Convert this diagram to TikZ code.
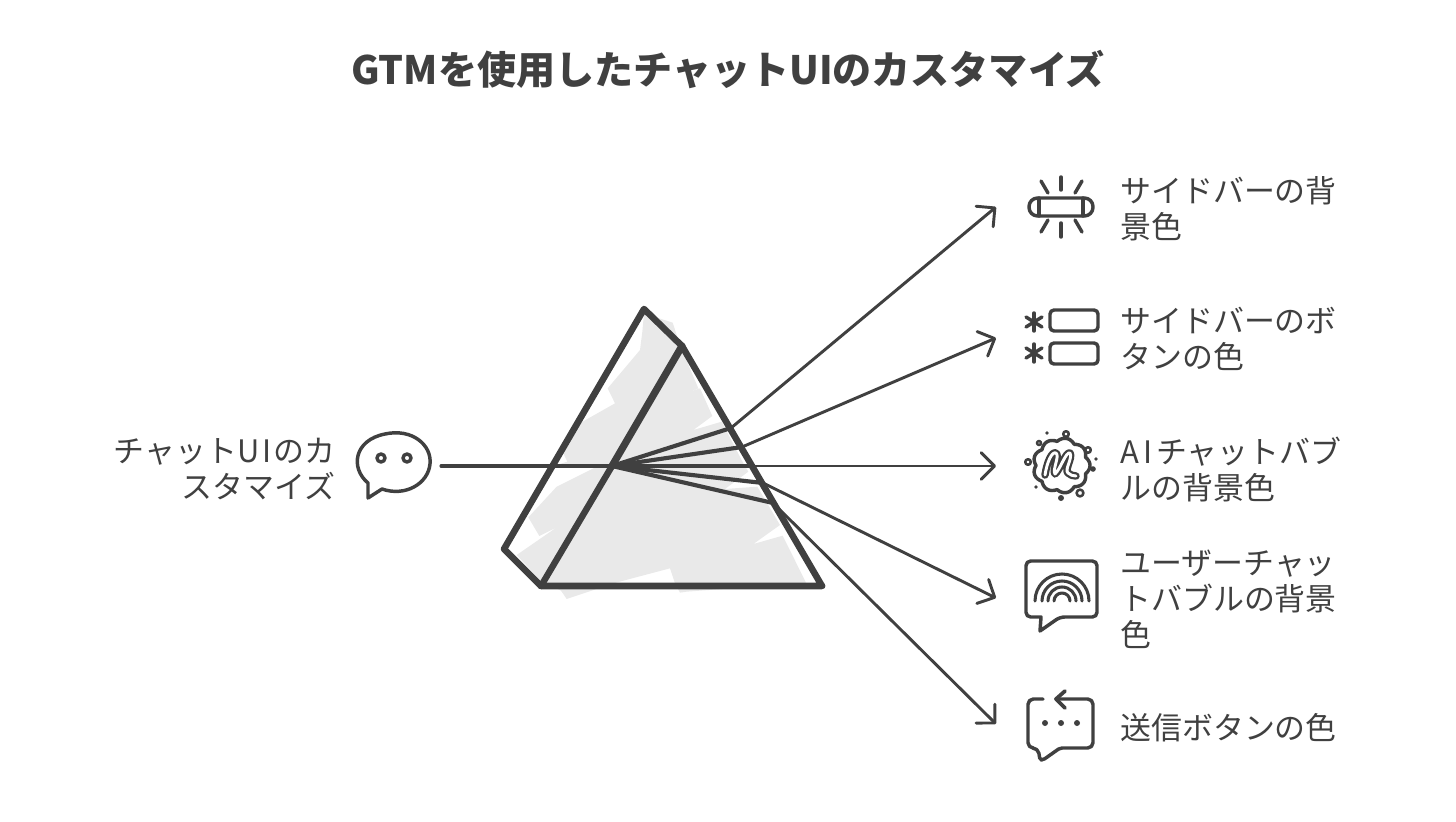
\documentclass[tikz,border=0pt]{standalone}
\usepackage{fontspec}
\setmainfont{Noto Sans CJK JP}
\usetikzlibrary{arrows.meta}
\definecolor{ink}{HTML}{404040}
\definecolor{prismgrey}{HTML}{E9E9E9}
\tikzset{
  prism/.style={draw=ink,line width=4.9pt,line cap=round,line join=round},
  ray/.style={draw=ink,line width=2.3pt,line cap=round},
  beam/.style={draw=ink,line width=3.1pt,line cap=round},
  pointer/.style={draw=ink,line width=2.2pt,line cap=round,line join=round,-{Straight Barb[length=10pt,width=20pt,line width=2.2pt,round]}},
  icon/.style={draw=ink,line width=2.6pt,line cap=round,line join=round},
  dot/.style={fill=ink,draw=none},
  label/.style={text=ink,inner sep=0pt,font=\fontsize{23.2}{27}\selectfont},
  rlabel/.style={label,anchor=west,align=left},
  llabel/.style={label,anchor=east,align=right},
  headline/.style={text=ink,inner sep=0pt,font=\fontsize{29.3}{34}\selectfont\bfseries}
}
\begin{document}
\begin{tikzpicture}[x=0.75pt,y=-0.75pt]
\useasboundingbox (0,0) rectangle (1456,821);
% grey hatch inside the prism
\begin{scope}[shift={(480,290)},x=0.25pt,y=-0.25pt]
\fill[prismgrey] (492,70)--(578,98)--(600,165)--(655,295)--(607,312)--(660,295)--(697,378)--(640,420)--(725,395)--(790,520)--(805,545)--(735,597)--(832,590)--(900,705)--(820,762)--(908,737)--(978,878)--(620,905)--(600,908)--(585,880)--(570,835)--(400,880)--(260,927)--(243,902)--(180,870)--(110,795)--(230,712)--(178,738)--(145,682)--(230,590)--(350,530)--(220,528)--(262,515)--(250,490)--(290,405)--(405,340)--(383,295)--(480,180)--(487,125)--cycle;
\end{scope}
% named points
\coordinate (apex) at (644,309);
\coordinate (ridge) at (682,346);
\coordinate (bl) at (541,586);
\coordinate (br) at (822,586);
\coordinate (far) at (504,549);
\coordinate (focus) at (612,466);
\coordinate (x1) at (731,428);
\coordinate (x2) at (742,447);
\coordinate (x3) at (752,466);
\coordinate (x4) at (763,483);
\coordinate (x5) at (773,503);
\coordinate (a1) at (996,207);
\coordinate (a2) at (996,338);
\coordinate (a3) at (996,466);
\coordinate (a4) at (996,598);
\coordinate (a5) at (996,724);
\coordinate (start) at (441,466);
% incoming ray and fan
\draw[ray] (start) -- (focus);
\draw[beam] (focus) -- (x1);
\draw[beam] (focus) -- (x2);
\draw[beam] (focus) -- (x3);
\draw[beam] (focus) -- (x4);
\draw[beam] (focus) -- (x5);
% prism outline
\draw[prism] (apex) -- (ridge) -- (br) -- (bl) -- (far) -- cycle;
\draw[prism,line width=5.4pt] (ridge) -- (focus);
\draw[prism,line width=4.8pt] (focus) -- (bl);
\draw[prism,line width=5.2pt] (bl) -- (br);
% outgoing arrows
\draw[pointer] (x1) -- (a1);
\draw[pointer] (x2) -- (a2);
\draw[pointer] (x3) -- (a3);
\draw[pointer] (x4) -- (a4);
\draw[pointer] (x5) -- (a5);
% title
\node[headline] (title) at (728,70) {GTMを使用したチャットUIのカスタマイズ};
% labels
\node[llabel] (lsrc) at (336,469) {チャットU\kern2pt I\kern2pt のカ\\スタマイズ};
\node[rlabel] (l1) at (1120,209) {サイドバーの背\\景色};
\node[rlabel] (l2) at (1120,339) {サイドバーのボ\\タンの色};
\node[rlabel] (l3) at (1120,469) {A\kern3pt I\kern3pt チャットバブ\\ルの背景色};
\node[rlabel] (l4) at (1120,599) {ユーザーチャッ\\トバブルの背景\\色};
\node[rlabel] (l5) at (1120,728) {送信ボタンの色};
% source bubble icon
\draw[icon] (368,483) .. controls (350,468) and (354,440) .. (385,434) .. controls (412,428) and (432,445) .. (430,464) .. controls (428,484) and (405,497) .. (382,489) -- (368,498) -- cycle;
\draw[icon] (381,458) circle (4);
\draw[icon] (407,458) circle (4);
% icon 1: glowing capsule
\draw[icon,rounded corners=6.5pt] (1029,198) rectangle (1093,216);
\draw[icon] (1039,198) -- (1039,216);
\draw[icon] (1083,198) -- (1083,216);
\draw[icon] (1061,177) -- (1061,190);
\draw[icon] (1041,181) -- (1048,193);
\draw[icon] (1082,181) -- (1075,193);
\draw[icon] (1061,223) -- (1061,237);
\draw[icon] (1048,220) -- (1041,232);
\draw[icon] (1075,220) -- (1082,232);
% icon 2: two buttons and stars
\draw[icon,rounded corners=3pt] (1050,310) rectangle (1098,331);
\draw[icon,rounded corners=3pt] (1050,343) rectangle (1098,364);
\foreach \cy in {322,353}{
  \draw[icon] (1034,\cy-9) -- (1034,\cy+9);
  \draw[icon] (1026,\cy-5) -- (1042,\cy+5);
  \draw[icon] (1026,\cy+5) -- (1042,\cy-5);
}
% icon 3: cloud with m
\draw[icon] plot[domain=0:360,samples=145,smooth] ({1061.5+(25.5+3*abs(cos(4.5*\x)))*cos(\x)},{465.5+(24.5+3*abs(cos(4.5*\x)))*sin(\x)}) -- cycle;
\draw[draw=ink,line cap=round,line join=round,double=white,double distance=2.2pt,line width=1.7pt] (1045,475) .. controls (1047,462) and (1052,451) .. (1056,453) .. controls (1060,456) and (1052,470) .. (1055,474) .. controls (1060,470) and (1066,451) .. (1070,453) .. controls (1073,458) and (1064,470) .. (1068,473) .. controls (1070,475) and (1073,476) .. (1076,476);
\foreach \px/\py/\r in {1047/433/1.8,1096/459/1.8,1036/487/1.8,1093/469/2.8,1061/498/3}{
  \fill[dot] (\px,\py) circle (\r);
}
\foreach \px/\py/\r in {1066/434/2.8,1039/443/2.0,1088/450/2.8,1028/462/2.8,1080/493/3.4}{
  \draw[icon,line width=1.9pt] (\px,\py) circle (\r);
}
% icon 4: bubble with rainbow
\draw[icon,rounded corners=3.5pt] (1026,561) -- (1097,561) -- (1097,617) -- (1060,617) [sharp corners] -- (1040,631) -- (1041,617) [rounded corners=3.5pt] -- (1026,617) -- cycle;
\foreach \r in {27,20,14,8}{
  \draw[icon,line width=2.3pt] (1062-\r,601) arc (180:360:\r);
}
% icon 5: bubble with return arrow
\draw[icon,rounded corners=4pt] (1043,699) -- (1028,699) -- (1028,748) -- (1038,748) [rounded corners=1.5pt] -- (1040,760) -- (1043,760) -- (1060,748) [rounded corners=4pt] -- (1093,748) -- (1093,699) -- (1056,699);
\draw[icon,line width=2.8pt] (1065,691) -- (1056,699) -- (1065,708);
\fill[dot] (1045,723) circle (3);
\fill[dot] (1061,723) circle (3);
\fill[dot] (1077,723) circle (3);
\end{tikzpicture}
\end{document}
